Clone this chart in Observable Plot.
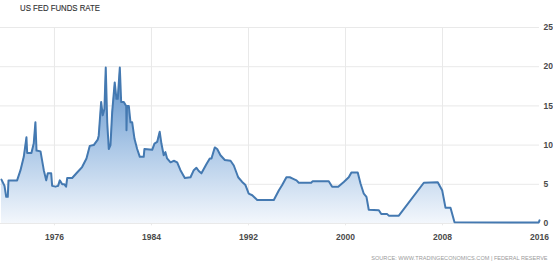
<!DOCTYPE html>
<html>
<head>
<meta charset="utf-8">
<script src="https://cdn.jsdelivr.net/npm/d3@7"></script>
<script src="https://cdn.jsdelivr.net/npm/@observablehq/plot@0.6"></script>
<style>
  html, body { margin: 0; padding: 0; background: #fff; }
  #wrap { width: 553px; height: 267px; position: relative; overflow: hidden; font-family: "Liberation Sans", Arial, sans-serif; }
  #title { height: 20px; position: relative; }
  #title span { position: absolute; left: 20px; top: 2px; font-size: 9.5px; color: #333; transform: scaleX(0.82); transform-origin: 0 0; white-space: nowrap; -webkit-text-stroke: 0.15px #333; }
  #source { position: absolute; right: 5px; top: 255px; font-size: 6px; color: #9a9a9a; transform: scaleX(0.93); transform-origin: 100% 0; white-space: nowrap; }
  svg { display: block; }
</style>
</head>
<body>
<div id="wrap">
  <div id="title"><span>US FED FUNDS RATE</span></div>
  <div id="chart"></div>
  <div id="source">SOURCE: WWW.TRADINGECONOMICS.COM | FEDERAL RESERVE</div>
</div>
<script>
// Fractional year and rate (%)
const years = [
  1971.63, 1971.88, 1972.02, 1972.15, 1972.21, 1972.92, 1973.20, 1973.47, 1973.69, 1973.75,
  1974.10, 1974.29, 1974.43, 1974.52, 1974.85, 1975.12, 1975.32, 1975.45, 1975.73, 1975.81,
  1976.08, 1976.30, 1976.44, 1976.64, 1976.82, 1976.96, 1977.05, 1977.46, 1977.87, 1978.28,
  1978.64, 1978.91, 1979.24, 1979.57, 1979.65, 1979.85, 1979.98, 1980.12, 1980.23, 1980.35,
  1980.48, 1980.62, 1980.76, 1980.97, 1981.11, 1981.22, 1981.39, 1981.50, 1981.72, 1981.91,
  1981.94, 1981.98, 1982.13, 1982.27, 1982.41, 1982.60, 1982.82, 1983.04, 1983.36, 1983.42,
  1984.06, 1984.25, 1984.47, 1984.68, 1984.82, 1985.01, 1985.15, 1985.29, 1985.57, 1985.84,
  1986.12, 1986.39, 1986.75, 1987.22, 1987.49, 1987.71, 1987.90, 1988.12, 1988.54, 1988.81,
  1988.95, 1989.22, 1989.42, 1989.69, 1990.05, 1990.52, 1990.79, 1991.15, 1991.48, 1991.75,
  1992.02, 1992.31, 1992.72, 1994.09, 1994.50, 1994.78, 1995.13, 1995.41, 1995.69, 1995.96,
  1996.15, 1997.17, 1997.30, 1998.62, 1998.90, 1999.40, 1999.86, 2000.27, 2000.49, 2001.01,
  2001.24, 2001.51, 2001.73, 2001.92, 2002.75, 2002.95, 2003.44, 2003.57, 2004.40, 2006.46,
  2007.61, 2007.98, 2008.25, 2008.66, 2008.99, 2015.94, 2016.00
];
const rates = [
  5.6, 4.8, 3.4, 3.4, 5.5, 5.5, 6.8, 8.5, 11.0, 9.0,
  9.0, 10.2, 12.9, 9.3, 9.2, 6.8, 5.5, 6.4, 6.4, 4.8,
  4.7, 4.8, 5.5, 5.0, 5.0, 4.7, 5.8, 5.8, 6.5, 7.2,
  8.3, 9.9, 10.0, 10.7, 11.2, 15.5, 13.8, 14.6, 19.9, 12.9,
  9.5, 10.0, 14.2, 18.0, 15.9, 15.9, 19.9, 15.5, 15.5, 15.0,
  11.9, 15.0, 15.0, 12.9, 12.9, 10.8, 9.5, 8.5, 8.5, 9.5,
  9.4, 10.2, 10.4, 11.7, 10.2, 8.7, 9.1, 8.3, 7.8, 8.0,
  7.8, 6.8, 5.8, 5.9, 6.8, 7.1, 6.7, 6.4, 7.6, 8.3,
  8.3, 9.7, 9.5, 8.7, 8.1, 8.0, 7.4, 5.9, 5.3, 4.9,
  3.8, 3.6, 3.0, 3.0, 4.2, 4.9, 5.9, 5.9, 5.7, 5.5,
  5.2, 5.2, 5.4, 5.4, 4.7, 4.7, 5.3, 5.9, 6.5, 6.5,
  5.1, 3.8, 3.4, 1.75, 1.7, 1.2, 1.2, 1.0, 1.0, 5.2,
  5.25, 4.2, 2.0, 2.0, 0.16, 0.13, 0.4
];
const xTicks = [1976, 1984, 1992, 2000, 2008, 2016];
const yTicks = [0, 5, 10, 15, 20, 25];

const data = years.map((y, i) => ({year: y, rate: rates[i]}));

const defs = () => {
  const ns = "http://www.w3.org/2000/svg";
  const d = document.createElementNS(ns, "defs");
  const g = document.createElementNS(ns, "linearGradient");
  g.setAttribute("id", "fillGrad");
  g.setAttribute("x1", "0"); g.setAttribute("y1", "0");
  g.setAttribute("x2", "0"); g.setAttribute("y2", "1");
  [["0", "#5a8fc8"], ["0.5", "#a9c6e6"], ["1", "#f3f7fc"]].forEach(([o, c]) => {
    const s = document.createElementNS(ns, "stop");
    s.setAttribute("offset", o); s.setAttribute("stop-color", c);
    g.appendChild(s);
  });
  d.appendChild(g);
  return d;
};

const chart = Plot.plot({
  width: 553,
  height: 228,
  marginTop: 7,
  marginBottom: 25,
  marginLeft: 0,
  marginRight: 14,
  style: {fontFamily: "'Liberation Sans', Arial, sans-serif", fontSize: "8.5px", fontWeight: "bold", color: "#4a4a4a", background: "transparent"},
  x: {domain: [1971.55, 2016], ticks: xTicks, tickFormat: d => String(d), label: null},
  y: {domain: [0, 25], ticks: yTicks, label: null},
  marks: [
    defs,
    Plot.ruleY(yTicks, {stroke: "#e9e9e9", strokeWidth: 1}),
    Plot.ruleX(xTicks.slice(0, -1), {y1: 25, y2: -0.3, stroke: "#e9e9e9", strokeWidth: 1}),
    Plot.areaY(data, {x: "year", y: "rate", fill: "url(#fillGrad)"}),
    Plot.lineY(data, {x: "year", y: "rate", stroke: "#4479b1", strokeWidth: 2, strokeLinejoin: "round"}),
    Plot.axisX({ticks: xTicks, tickFormat: d => String(d), tickSize: 0, tickPadding: 10, label: null}),
    Plot.axisY({anchor: "right", ticks: yTicks, tickSize: 0, tickPadding: 4, label: null})
  ]
});
document.getElementById("chart").appendChild(chart);
</script>
</body>
</html>
